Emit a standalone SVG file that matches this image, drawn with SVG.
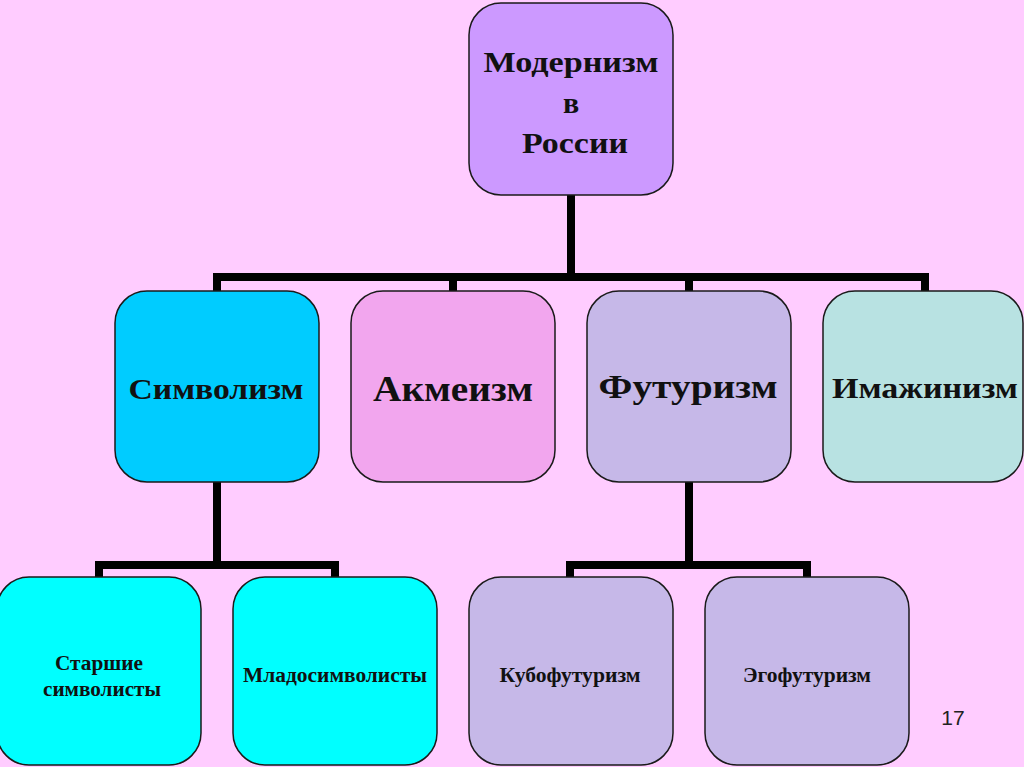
<svg xmlns="http://www.w3.org/2000/svg" width="1024" height="767" viewBox="0 0 1024 767">
<style>
.box{stroke:#1a1a1a;stroke-width:1.5}
.t{font-family:"Liberation Serif","Times New Roman",serif;font-weight:bold;fill:#111;text-anchor:middle}
.c{fill:none;stroke:#000;stroke-width:8;stroke-linecap:butt;stroke-linejoin:miter}
</style>
<rect x="0" y="0" width="1024" height="767" fill="#FFCCFF"/>
<g id="connectors">
<path class="c" d="M571 195 V277 M213 277 H929 M217 277 V291 M453 277 V291 M689 277 V291 M925 277 V291"/>
<path class="c" d="M217 482 V565 M95 565 H339 M99 565 V577 M335 565 V577"/>
<path class="c" d="M689 482 V565 M566 565 H811 M570 565 V577 M807 565 V577"/>
</g>
<g id="modernism">
<rect class="box" x="469" y="3" width="204" height="192" rx="32" fill="#CC99FF"/>
<text class="t" x="571" y="72" font-size="30" textLength="175" lengthAdjust="spacingAndGlyphs">Модернизм</text>
<text class="t" x="571" y="113" font-size="30">в</text>
<text class="t" x="575" y="153" font-size="30" textLength="106" lengthAdjust="spacingAndGlyphs">России</text>
</g>
<g id="symbolism">
<rect class="box" x="115" y="291" width="204" height="191" rx="32" fill="#00CCFF"/>
<text class="t" x="216" y="399" font-size="29" textLength="175" lengthAdjust="spacingAndGlyphs">Символизм</text>
</g>
<g id="acmeism">
<rect class="box" x="351" y="291" width="204" height="191" rx="32" fill="#F2A6EE"/>
<text class="t" x="453" y="401" font-size="35" textLength="160" lengthAdjust="spacingAndGlyphs">Акмеизм</text>
</g>
<g id="futurism">
<rect class="box" x="587" y="291" width="204" height="191" rx="32" fill="#C6B8E8"/>
<text class="t" x="688" y="398" font-size="34" textLength="179" lengthAdjust="spacingAndGlyphs">Футуризм</text>
</g>
<g id="imaginism">
<rect class="box" x="823" y="291" width="200" height="191" rx="32" fill="#B8E2E2"/>
<text class="t" x="925" y="398" font-size="29" textLength="186" lengthAdjust="spacingAndGlyphs">Имажинизм</text>
</g>
<g id="older-symbolists">
<rect class="box" x="-3" y="577" width="204" height="188" rx="32" fill="#00FFFF"/>
<text class="t" x="99" y="670" font-size="20" textLength="88" lengthAdjust="spacingAndGlyphs">Старшие</text>
<text class="t" x="102" y="696" font-size="20" textLength="118" lengthAdjust="spacingAndGlyphs">символисты</text>
</g>
<g id="young-symbolists">
<rect class="box" x="233" y="577" width="204" height="188" rx="32" fill="#00FFFF"/>
<text class="t" x="335" y="682" font-size="20" textLength="184" lengthAdjust="spacingAndGlyphs">Младосимволисты</text>
</g>
<g id="cubofuturism">
<rect class="box" x="469" y="577" width="204" height="188" rx="32" fill="#C6B8E8"/>
<text class="t" x="570" y="682" font-size="20" textLength="141" lengthAdjust="spacingAndGlyphs">Кубофутуризм</text>
</g>
<g id="egofuturism">
<rect class="box" x="705" y="577" width="204" height="188" rx="32" fill="#C6B8E8"/>
<text class="t" x="807" y="682" font-size="20" textLength="128" lengthAdjust="spacingAndGlyphs">Эгофутуризм</text>
</g>
<text x="953" y="725" font-family="Liberation Sans, Arial, sans-serif" font-size="21" fill="#222" text-anchor="middle">17</text>
</svg>
